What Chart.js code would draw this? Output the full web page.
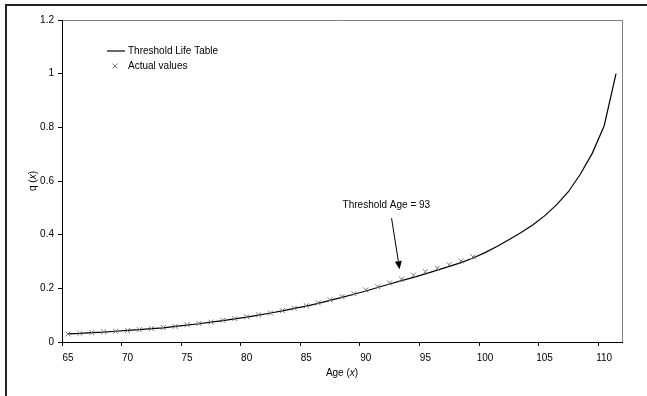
<!DOCTYPE html>
<html>
<head>
<meta charset="utf-8">
<script src="https://cdn.jsdelivr.net/npm/chart.js@4/dist/chart.umd.min.js"></script>
<style>
  body { margin: 0; background: #fff; }
  #wrap { width: 647px; height: 396px; }
</style>
</head>
<body>
<div id="wrap"><canvas id="chart" width="647" height="396"></canvas></div>
<script>
// Ages (category axis)
const ages = [65, 66, 67, 68, 69, 70, 71, 72, 73, 74, 75, 76, 77, 78, 79, 80,
  81, 82, 83, 84, 85, 86, 87, 88, 89, 90, 91, 92, 93, 94, 95, 96, 97, 98, 99,
  100, 101, 102, 103, 104, 105, 106, 107, 108, 109, 110, 111];

// Threshold life table q(x), ages 65-111
const thresholdQ = [0.030, 0.032, 0.035, 0.037, 0.040, 0.043, 0.046, 0.050, 0.053, 0.058,
  0.063, 0.068, 0.074, 0.080, 0.086, 0.093, 0.100, 0.108, 0.116, 0.125,
  0.134, 0.144, 0.155, 0.166, 0.178, 0.190, 0.203, 0.216, 0.229, 0.241,
  0.254, 0.268, 0.282, 0.296, 0.313, 0.333, 0.356, 0.381, 0.407, 0.436,
  0.470, 0.511, 0.560, 0.625, 0.703, 0.805, 1.000];

// Actual values q(x), ages 65-99
const actualQ = [0.030, 0.032, 0.035, 0.038, 0.040, 0.043, 0.046, 0.050, 0.054, 0.058,
  0.064, 0.069, 0.074, 0.081, 0.087, 0.094, 0.101, 0.108, 0.117, 0.126,
  0.135, 0.146, 0.157, 0.169, 0.180, 0.194, 0.206, 0.220, 0.234, 0.249,
  0.262, 0.275, 0.288, 0.302, 0.317];

const yTicks = { min: 0, max: 1.2, step: 0.2 };
const thresholdAge = 93;

const FONT = '"Liberation Sans", Arial, sans-serif';

// text with an italic piece, e.g. "Age (" + x + ")"
function drawMixed(ctx, parts, cx, cy) {
  let total = 0;
  parts.forEach(p => {
    ctx.font = (p.italic ? 'italic ' : '') + '10px ' + FONT;
    p.w = ctx.measureText(p.t).width;
    total += p.w;
  });
  let x = cx - total / 2;
  parts.forEach(p => {
    ctx.font = (p.italic ? 'italic ' : '') + '10px ' + FONT;
    ctx.fillText(p.t, x, cy);
    x += p.w;
  });
}

const decorations = {
  id: 'decorations',
  beforeDraw(chart) {
    const ctx = chart.ctx;
    const a = chart.chartArea;
    ctx.save();
    ctx.fillStyle = '#fff';
    ctx.fillRect(0, 0, chart.width, chart.height);
    // outer frame
    ctx.fillStyle = '#222';
    ctx.fillRect(5, 4, chart.width - 5, 2);
    ctx.fillRect(5, 4, 2, chart.height - 4);
    // plot area top / right edge
    ctx.strokeStyle = '#808080';
    ctx.lineWidth = 1;
    ctx.beginPath();
    ctx.moveTo(a.left, a.top + 0.5);
    ctx.lineTo(a.right + 0.5, a.top + 0.5);
    ctx.lineTo(a.right + 0.5, a.bottom);
    ctx.stroke();
    ctx.restore();
  },
  afterDraw(chart) {
    const ctx = chart.ctx;
    const a = chart.chartArea;
    const xs = chart.scales.x;
    const ys = chart.scales.y;
    ctx.save();
    ctx.fillStyle = '#000';
    ctx.textBaseline = 'middle';
    ctx.textAlign = 'left';

    // axis titles
    drawMixed(ctx, [{ t: 'Age (' }, { t: 'x', italic: true }, { t: ')' }], (a.left + a.right) / 2, 373);
    ctx.save();
    ctx.translate(33, (a.top + a.bottom) / 2);
    ctx.rotate(-Math.PI / 2);
    drawMixed(ctx, [{ t: 'q (' }, { t: 'x', italic: true }, { t: ')' }], 0, 0);
    ctx.restore();

    // legend
    ctx.font = '10px ' + FONT;
    ctx.strokeStyle = '#000';
    ctx.lineWidth = 1.2;
    ctx.beginPath();
    ctx.moveTo(107, 51);
    ctx.lineTo(125, 51);
    ctx.stroke();
    ctx.fillText('Threshold Life Table', 128, 51);
    ctx.strokeStyle = '#777';
    ctx.lineWidth = 1;
    ctx.beginPath();
    ctx.moveTo(112.5, 63.5); ctx.lineTo(117.5, 68.5);
    ctx.moveTo(117.5, 63.5); ctx.lineTo(112.5, 68.5);
    ctx.stroke();
    ctx.fillText('Actual values', 128, 66);

    // threshold annotation with arrow
    const idx = ages.indexOf(thresholdAge);
    const tipX = xs.getPixelForValue(idx) - 2;
    const tipY = ys.getPixelForValue(actualQ[idx]) - 10;
    const startX = tipX - 8, startY = tipY - 51;
    const ang = Math.atan2(tipY - startY, tipX - startX);
    const hl = 8, hw = 3.5;
    const bx = tipX - hl * Math.cos(ang), by = tipY - hl * Math.sin(ang);
    ctx.strokeStyle = '#000';
    ctx.lineWidth = 1;
    ctx.beginPath();
    ctx.moveTo(startX, startY);
    ctx.lineTo(bx, by);
    ctx.stroke();
    ctx.beginPath();
    ctx.moveTo(tipX, tipY);
    ctx.lineTo(bx + hw * Math.sin(ang), by - hw * Math.cos(ang));
    ctx.lineTo(bx - hw * Math.sin(ang), by + hw * Math.cos(ang));
    ctx.closePath();
    ctx.fill();
    ctx.fillText('Threshold Age = ' + thresholdAge, tipX - 57, tipY - 64);
    ctx.restore();
  }
};

new Chart(document.getElementById('chart'), {
  type: 'line',
  data: {
    labels: ages,
    datasets: [{
      label: 'Threshold Life Table',
      data: thresholdQ,
      borderColor: '#000',
      borderWidth: 1.2,
      pointRadius: 0,
      tension: 0,
      order: 2
    }, {
      label: 'Actual values',
      data: actualQ,
      showLine: false,
      pointStyle: 'crossRot',
      pointRadius: 3.5,
      pointBorderColor: '#777',
      pointBorderWidth: 1,
      order: 1
    }]
  },
  options: {
    responsive: false,
    animation: false,
    layout: { padding: { top: 20, right: 25, left: 0, bottom: 0 } },
    plugins: {
      legend: { display: false },
      tooltip: { enabled: false }
    },
    scales: {
      x: {
        type: 'category',
        offset: true,
        grid: {
          offset: true,
          drawOnChartArea: false,
          drawTicks: true,
          tickLength: 4,
          tickColor: ctx => (ctx.index !== undefined && ctx.index % 5 === 0) ? '#000' : 'rgba(0,0,0,0)'
        },
        border: { color: '#000', width: 1 },
        ticks: {
          autoSkip: false,
          maxRotation: 0,
          padding: 6,
          color: '#000',
          font: { family: FONT, size: 10 },
          callback: (val, i) => ages[i] % 5 === 0 ? String(ages[i]) : ''
        },
        afterFit: scale => { scale.height = 54; }
      },
      y: {
        min: yTicks.min,
        max: yTicks.max,
        grid: {
          drawOnChartArea: false,
          drawTicks: true,
          tickLength: 4,
          tickColor: '#000'
        },
        border: { color: '#000', width: 1 },
        ticks: {
          stepSize: yTicks.step,
          padding: 4,
          color: '#000',
          font: { family: FONT, size: 10 },
          callback: v => String(Number(v.toFixed(1)))
        },
        afterFit: scale => { scale.width = 62; }
      }
    }
  },
  plugins: [decorations]
});
</script>
</body>
</html>
